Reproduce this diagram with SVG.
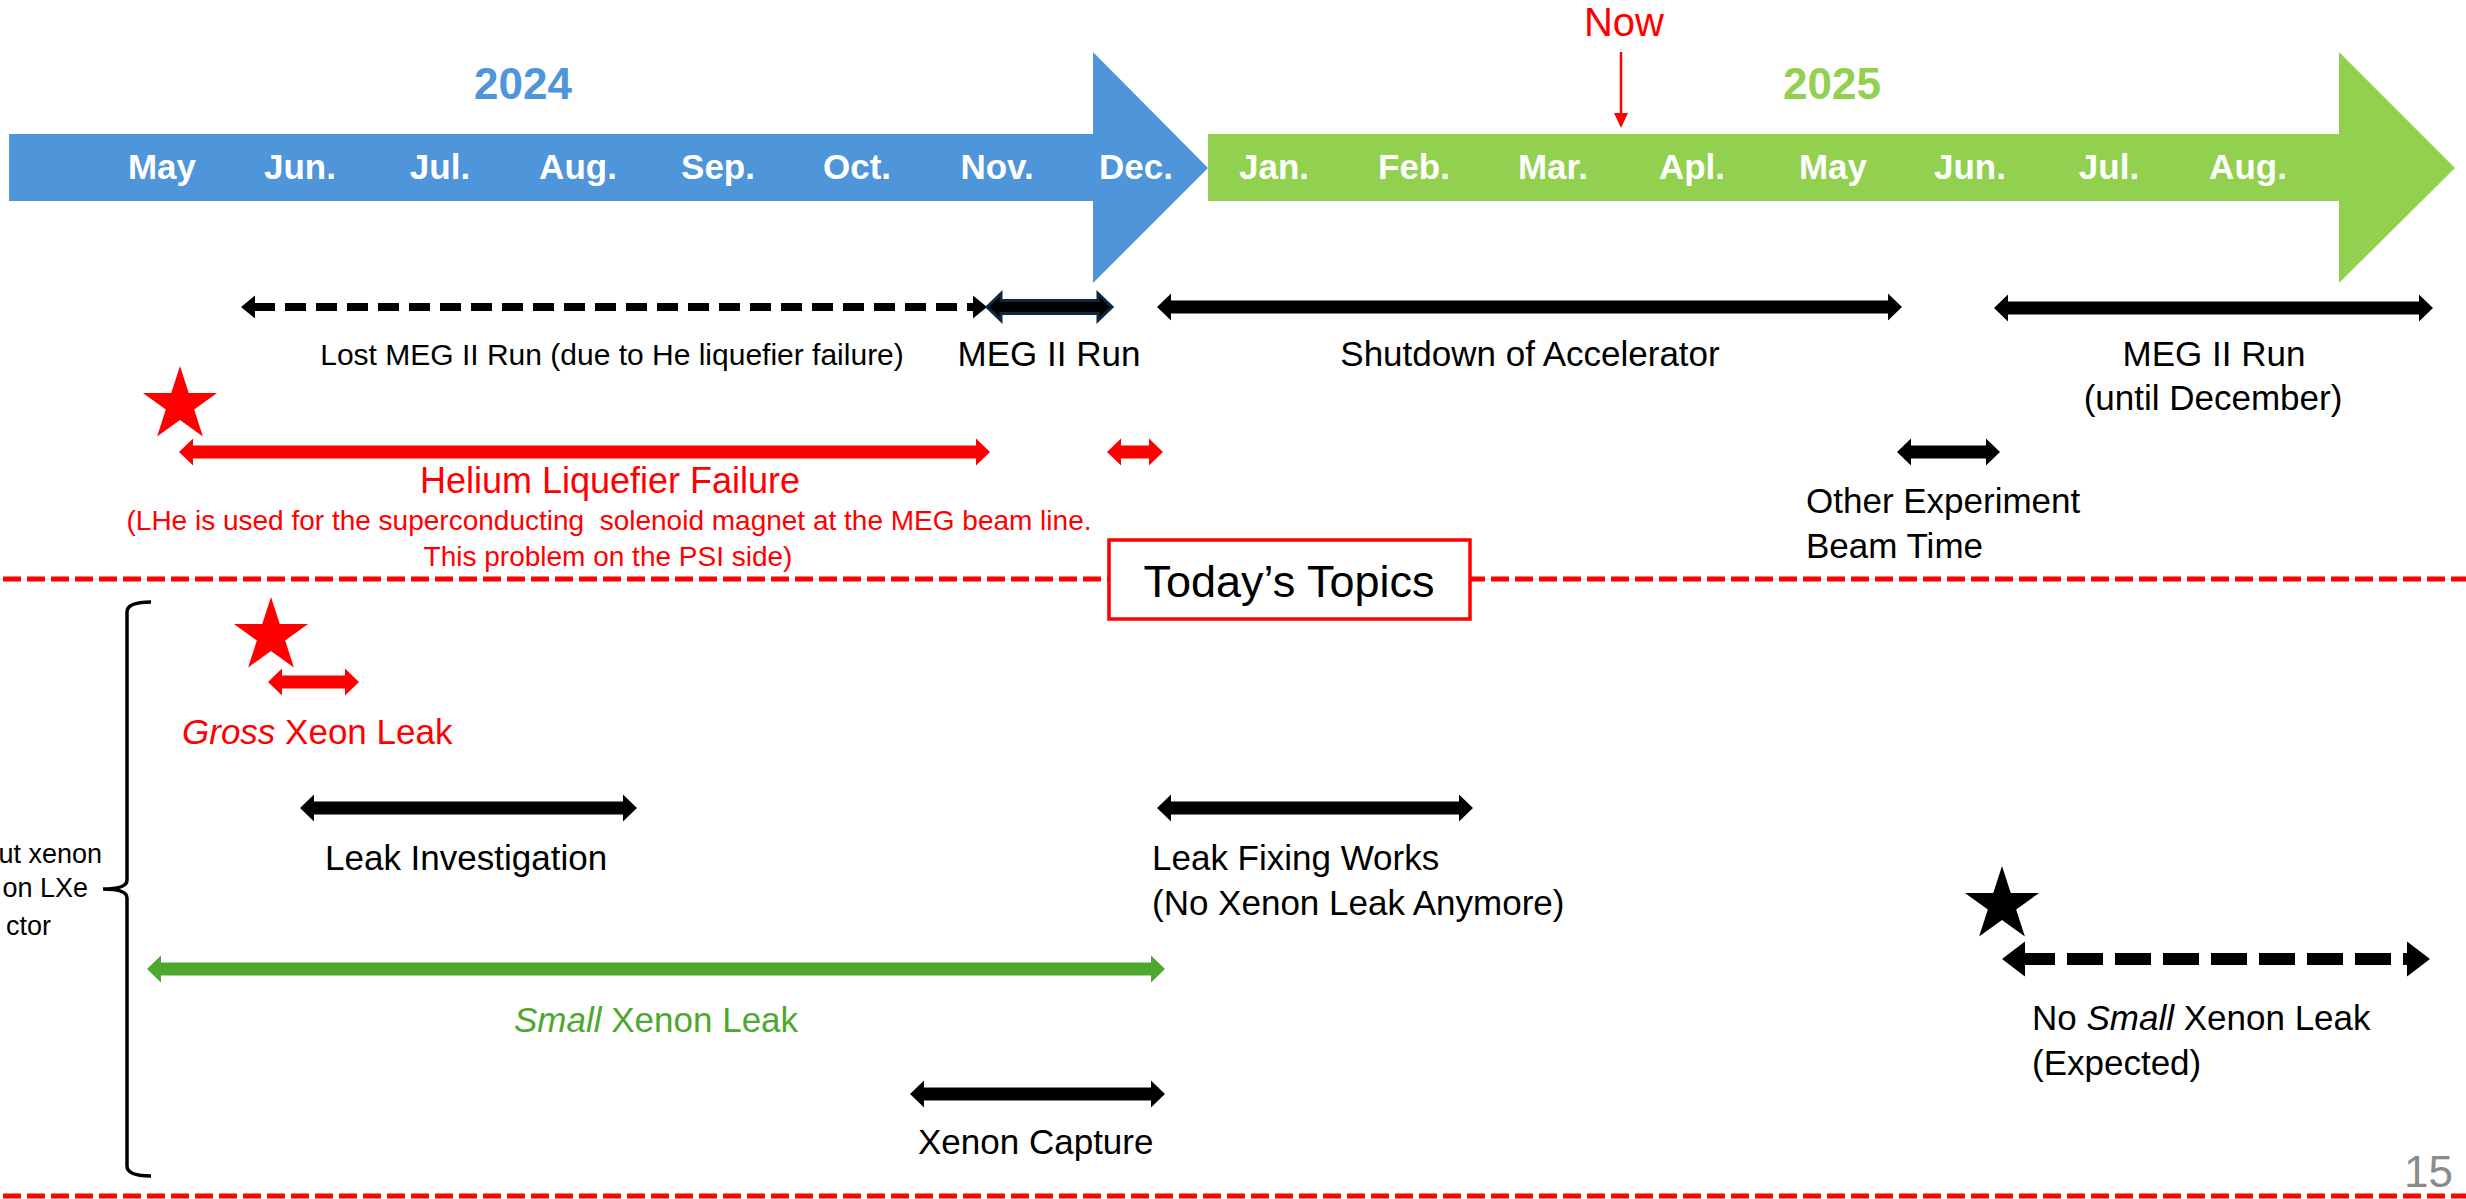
<svg xmlns="http://www.w3.org/2000/svg" width="2466" height="1199" viewBox="0 0 2466 1199">
<style>
text{font-family:"Liberation Sans",Arial,sans-serif}
.mon{font-size:35px;font-weight:bold;fill:#fff;text-anchor:middle}
.yr{font-size:44px;font-weight:bold;text-anchor:middle}
.lbl{font-size:35px;fill:#000}
.mid{text-anchor:middle}
.red{fill:#ff0000}
.grn{fill:#4EA72E}
.blk{fill:#000}
.sep{stroke:#ff0000;stroke-width:5;stroke-dasharray:18 6;fill:none}
</style>
<defs>
<polygon id="star" points="0,-39 8.76,-12.05 37.1,-12.05 14.17,4.6 22.9,31.55 0,14.9 -22.9,31.55 -14.17,4.6 -37.1,-12.05 -8.76,-12.05"/>
</defs>
<rect width="2466" height="1199" fill="#fff"/>

<g id="timeline-2024">
<polygon points="9,134 1093,134 1093,52 1208,168 1093,283 1093,201 9,201" fill="#4E95D9"/>
<text class="yr" x="523" y="99" fill="#4E95D9">2024</text>
<text class="mon" x="162" y="179">May</text>
<text class="mon" x="300" y="179">Jun.</text>
<text class="mon" x="440" y="179">Jul.</text>
<text class="mon" x="578" y="179">Aug.</text>
<text class="mon" x="718" y="179">Sep.</text>
<text class="mon" x="857" y="179">Oct.</text>
<text class="mon" x="997" y="179">Nov.</text>
<text class="mon" x="1136" y="179">Dec.</text>
</g>

<g id="timeline-2025">
<polygon points="1208,134 2339,134 2339,52 2455,168 2339,283 2339,201 1208,201" fill="#92D050"/>
<text class="yr" x="1832" y="99" fill="#92D050">2025</text>
<text class="mon" x="1274" y="179">Jan.</text>
<text class="mon" x="1414" y="179">Feb.</text>
<text class="mon" x="1553" y="179">Mar.</text>
<text class="mon" x="1692" y="179">Apl.</text>
<text class="mon" x="1833" y="179">May</text>
<text class="mon" x="1970" y="179">Jun.</text>
<text class="mon" x="2109" y="179">Jul.</text>
<text class="mon" x="2248" y="179">Aug.</text>
</g>

<g id="now">
<text x="1624" y="36" font-size="40" class="red mid">Now</text>
<line x1="1621" y1="52" x2="1621" y2="116" stroke="#ff0000" stroke-width="2.5"/>
<polygon points="1614,113 1628,113 1621,128" fill="#ff0000"/>
</g>

<g id="separators">
<line class="sep" x1="3" y1="579" x2="2466" y2="579"/>
<line class="sep" x1="3" y1="1196" x2="2466" y2="1196"/>
</g>

<g id="connectors">
<g id="arrow-lost-run">
<line x1="254" y1="307" x2="975" y2="307" stroke="#000" stroke-width="8" stroke-dasharray="21 10"/>
<polygon points="241,307 255,295.5 255,318.5" fill="#000"/>
<polygon points="987,307 973,295.5 973,318.5" fill="#000"/>
</g>
<polygon id="arrow-meg-run-2024" points="987,307 1001,293.5 1001,300.5 1098,300.5 1098,293.5 1112,307 1098,320.5 1098,313.5 1001,313.5 1001,320.5" fill="#000" stroke="#0E2841" stroke-width="3" stroke-linejoin="miter"/>
<polygon id="arrow-shutdown" points="1157,307 1171,293.5 1171,300.5 1888,300.5 1888,293.5 1902,307 1888,320.5 1888,313.5 1171,313.5 1171,320.5" fill="#000"/>
<polygon id="arrow-meg-run-2025" points="1994,308 2008,294.5 2008,301.5 2419,301.5 2419,294.5 2433,308 2419,321.5 2419,314.5 2008,314.5 2008,321.5" fill="#000"/>
<polygon id="arrow-helium" points="179,452 193,438.5 193,445.5 976,445.5 976,438.5 990,452 976,465.5 976,458.5 193,458.5 193,465.5" fill="#ff0000"/>
<polygon id="arrow-helium-2" points="1107,452 1121,438.5 1121,445.5 1149,445.5 1149,438.5 1163,452 1149,465.5 1149,458.5 1121,458.5 1121,465.5" fill="#ff0000"/>
<polygon id="arrow-other" points="1897,452 1911,438.5 1911,445.5 1986,445.5 1986,438.5 2000,452 1986,465.5 1986,458.5 1911,458.5 1911,465.5" fill="#000"/>
<polygon id="arrow-gross" points="268,682 282,668.5 282,675.5 345,675.5 345,668.5 359,682 345,695.5 345,688.5 282,688.5 282,695.5" fill="#ff0000"/>
<polygon id="arrow-investigation" points="300,808 314,794.5 314,801.5 623,801.5 623,794.5 637,808 623,821.5 623,814.5 314,814.5 314,821.5" fill="#000"/>
<polygon id="arrow-fixing" points="1157,808 1171,794.5 1171,801.5 1459,801.5 1459,794.5 1473,808 1459,821.5 1459,814.5 1171,814.5 1171,821.5" fill="#000"/>
<polygon id="arrow-small-leak" points="147,969 161,955.5 161,962.5 1151,962.5 1151,955.5 1165,969 1151,982.5 1151,975.5 161,975.5 161,982.5" fill="#4EA72E"/>
<polygon id="arrow-capture" points="910,1094 924,1080.5 924,1087.5 1151,1087.5 1151,1080.5 1165,1094 1151,1107.5 1151,1100.5 924,1100.5 924,1107.5" fill="#000"/>
<g id="arrow-no-small-leak">
<line x1="2019" y1="959" x2="2410" y2="959" stroke="#000" stroke-width="12" stroke-dasharray="36 12"/>
<polygon points="2002,959 2025,941.5 2025,976.5" fill="#000"/>
<polygon points="2430,959 2407,941.5 2407,976.5" fill="#000"/>
</g>
<path id="brace" d="M151,602 Q127,602 127,612 L127,880 Q127,889 103,889 Q127,889 127,898 L127,1166 Q127,1176 151,1176" fill="none" stroke="#000" stroke-width="3.5"/>
</g>

<g id="label-lost-run"><text class="mid" x="612" y="365" font-size="30">Lost MEG II Run (due to He liquefier failure)</text></g>
<g id="label-meg-run-2024"><text class="lbl mid" x="1049" y="366">MEG II Run</text></g>
<g id="label-shutdown"><text class="lbl mid" x="1530" y="366">Shutdown of Accelerator</text></g>
<g id="label-meg-run-2025"><text class="lbl mid" x="2214" y="366">MEG II Run</text><text class="lbl mid" x="2213" y="410">(until December)</text></g>

<g id="helium-failure">
<use href="#star" x="180" y="405" fill="#ff0000"/>
<text class="red mid" x="610" y="493" font-size="36">Helium Liquefier Failure</text>
<text class="red mid" x="609" y="530" font-size="28" xml:space="preserve">(LHe is used for the superconducting  solenoid magnet at the MEG beam line.</text>
<text class="red mid" x="608" y="566" font-size="28">This problem on the PSI side)</text>
</g>

<g id="label-other"><text class="lbl" x="1806" y="513">Other Experiment</text><text class="lbl" x="1806" y="558">Beam Time</text></g>

<g id="todays-topics">
<rect x="1109" y="540" width="361" height="79" fill="#fff" stroke="#ff0000" stroke-width="3.5"/>
<text class="mid" x="1289" y="597" font-size="45">Today’s Topics</text>
</g>

<g id="brace-label">
<text x="102" y="863" font-size="27" text-anchor="end">ut xenon</text>
<text x="88" y="897" font-size="27" text-anchor="end">on LXe</text>
<text x="51" y="935" font-size="27" text-anchor="end">ctor</text>
</g>

<g id="gross-leak">
<use href="#star" x="271" y="636" fill="#ff0000"/>
<text class="lbl red" x="182" y="744"><tspan font-style="italic">Gross</tspan> Xeon Leak</text>
</g>
<g id="label-investigation"><text class="lbl" x="325" y="870">Leak Investigation</text></g>
<g id="label-fixing"><text class="lbl" x="1152" y="870">Leak Fixing Works</text><text class="lbl" x="1152" y="915">(No Xenon Leak Anymore)</text></g>
<g id="label-small-leak"><text class="lbl grn" x="514" y="1032"><tspan font-style="italic">Small</tspan> Xenon Leak</text></g>
<g id="label-capture"><text class="lbl" x="918" y="1154">Xenon Capture</text></g>
<g id="no-small-leak">
<use href="#star" x="2002" y="905" fill="#000"/>
<text class="lbl" x="2032" y="1030">No <tspan font-style="italic">Small</tspan> Xenon Leak</text>
<text class="lbl" x="2032" y="1075">(Expected)</text>
</g>
<g id="page-number"><text x="2404" y="1187" font-size="44" fill="#8B8B8B">15</text></g>
</svg>
